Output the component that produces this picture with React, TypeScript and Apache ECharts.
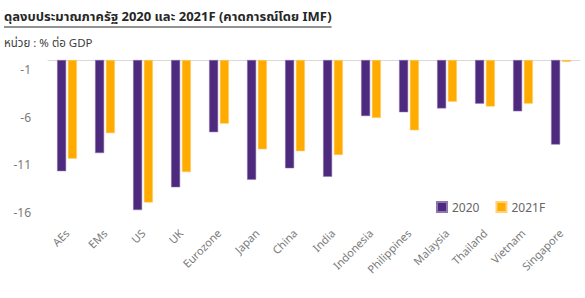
import React, { useEffect, useRef } from "react";
import * as echarts from "echarts";

const categories = ["AEs", "EMs", "US", "UK", "Eurozone", "Japan", "China", "India", "Indonesia", "Philippines", "Malaysia", "Thailand", "Vietnam", "Singapore"];
const values2020 = [-11.7, -9.8, -15.8, -13.4, -7.6, -12.6, -11.4, -12.3, -5.9, -5.5, -5.1, -4.6, -5.4, -8.9];
const values2021 = [-10.4, -7.7, -15.0, -11.8, -6.7, -9.4, -9.6, -10.0, -6.1, -7.4, -4.4, -4.9, -4.6, -0.2];
const seriesNames = ["2020", "2021F"];
const titleText = "ดุลงบประมาณภาครัฐ 2020 และ 2021F (คาดการณ์โดย IMF)";
const subtitleText = "หน่วย : % ต่อ GDP";

const FONT = "'Noto Sans', 'Noto Sans Thai', Tahoma, sans-serif";

export default function App() {
  const ref = useRef<HTMLDivElement>(null);
  useEffect(() => {
    if (!ref.current) return;
    const chart = echarts.init(ref.current, undefined, { renderer: "svg" });
    const canvas = document.createElement("canvas");
    const ctx = canvas.getContext("2d");
    let tw = 330;
    if (ctx) {
      ctx.font = "bold 13px " + FONT;
      tw = ctx.measureText(titleText).width;
    }
    chart.setOption({
      animation: false,
      textStyle: { fontFamily: FONT },
      grid: { left: 48, right: 5, top: 60, bottom: 86 },
      legend: {
        left: 431,
        top: 196,
        itemWidth: 10,
        itemHeight: 10,
        itemGap: 16,
        icon: "rect",
        textStyle: { fontSize: 12, color: "#666666", fontFamily: FONT },
        data: seriesNames,
      },
      graphic: [
        {
          type: "text",
          left: 4,
          top: 9,
          style: { text: titleText, font: "bold 13px " + FONT, fill: "#262626" },
        },
        {
          type: "line",
          shape: { x1: 4, y1: 27, x2: 4 + tw, y2: 27 },
          style: { stroke: "#262626", lineWidth: 1 },
        },
        {
          type: "text",
          left: 4,
          top: 36,
          style: { text: subtitleText, font: "11.5px " + FONT, fill: "#404040" },
        },
      ],
      xAxis: [
        {
          type: "category",
          data: categories,
          position: "bottom",
          axisLine: { show: false, onZero: false },
          axisTick: { show: false },
          axisLabel: { rotate: 45, fontSize: 11, color: "#7a7a7a", margin: 19, interval: 0 },
        },
        {
          type: "category",
          data: categories,
          position: "top",
          axisLine: { show: true, onZero: false, lineStyle: { color: "#d9d9d9", width: 1 } },
          axisTick: { show: false },
          axisLabel: { show: false },
        },
      ],
      yAxis: {
        type: "value",
        min: -16,
        max: 0,
        interval: 5,
        axisLine: { show: false },
        axisTick: { show: false },
        splitLine: { show: false },
        axisLabel: { fontSize: 12, color: "#7a7a7a", margin: 17, showMaxLabel: false },
      },
      series: [
        {
          name: seriesNames[0],
          type: "bar",
          data: values2020,
          barWidth: 9,
          barGap: "20%",
          itemStyle: { color: "#4E2A7F", borderColor: "#8E77B0", borderWidth: 0.5 },
        },
        {
          name: seriesNames[1],
          type: "bar",
          data: values2021,
          barWidth: 9,
          barGap: "20%",
          itemStyle: { color: "#FFAB00", borderColor: "#FFD27A", borderWidth: 0.5 },
        },
      ],
    });
    return () => chart.dispose();
  }, []);
  return <div ref={ref} style={{ width: 585, height: 298, position: "absolute", left: 0, top: 0 }} />;
}
